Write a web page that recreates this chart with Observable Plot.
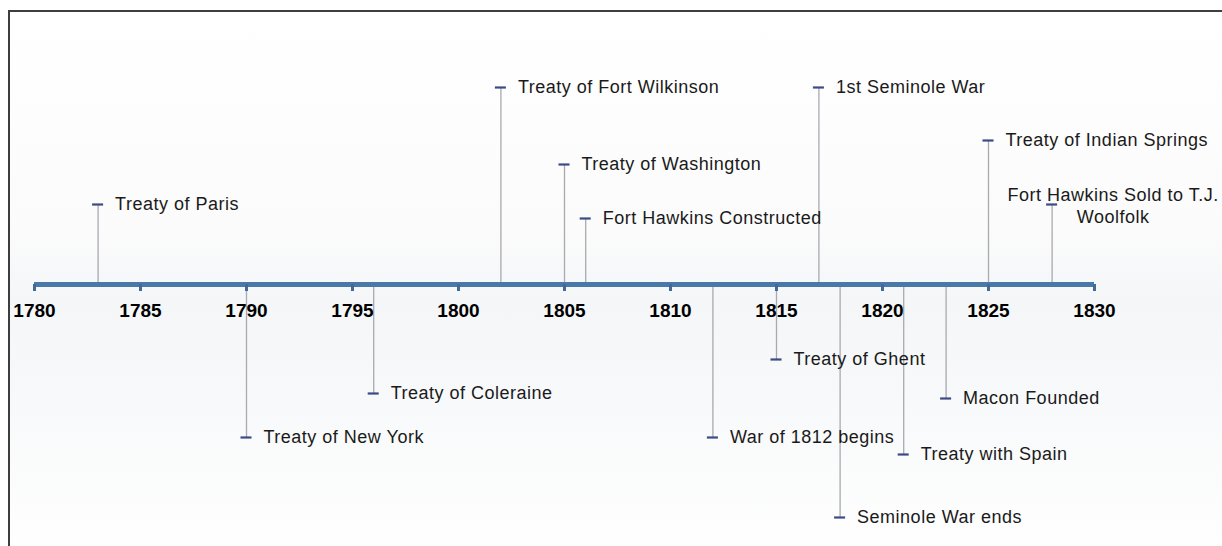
<!DOCTYPE html>
<html>
<head>
<meta charset="utf-8">
<script src="https://cdn.jsdelivr.net/npm/d3@7"></script>
<script src="https://cdn.jsdelivr.net/npm/@observablehq/plot@0.6"></script>
<style>
  html, body { margin: 0; padding: 0; background: #ffffff; overflow: hidden; }
  #wrap { position: relative; width: 1222px; height: 546px; }
  #frame {
    position: absolute; left: 8px; top: 10px; width: 1240px; height: 560px;
    border: 2px solid #3e3e3e; box-sizing: border-box;
    background: linear-gradient(to bottom, #ffffff 0%, #fbfbfb 40%, #f4f6f8 52%, #f8f9fa 70%, #ffffff 100%);
  }
  #chart { position: absolute; left: 0; top: 0; }
  svg { overflow: visible; }
</style>
</head>
<body>
<div id="wrap">
  <div id="frame"></div>
  <div id="chart"></div>
</div>
<script>
const years = [1783, 1790, 1796, 1802, 1805, 1806, 1812, 1815, 1817, 1818, 1821, 1823, 1825, 1828];
const labels = [
  "Treaty of Paris",
  "Treaty of New York",
  "Treaty of Coleraine",
  "Treaty of Fort Wilkinson",
  "Treaty of Washington",
  "Fort Hawkins Constructed",
  "War of 1812 begins",
  "Treaty of Ghent",
  "1st Seminole War",
  "Seminole War ends",
  "Treaty with Spain",
  "Macon Founded",
  "Treaty of Indian Springs",
  "Fort Hawkins Sold to T.J.\nWoolfolk"
];
// height of each event's marker above (+) or below (-) the time axis
const heights = [80, -153, -109, 197, 120, 66, -153, -75, 197, -233, -170, -114, 144, 80];
const tickYears = [1780, 1785, 1790, 1795, 1800, 1805, 1810, 1815, 1820, 1825, 1830];

const events = years.map((y, i) => ({year: y, label: labels[i], h: heights[i], last: i === years.length - 1}));
const normal = events.filter(d => !d.last);
const centered = events.filter(d => d.last);
const ticks = tickYears.map(t => ({year: t}));

const chart = Plot.plot({
  width: 1222,
  height: 546,
  marginLeft: 34,
  marginRight: 128,
  marginTop: 0,
  marginBottom: 0,
  style: {background: "transparent", fontFamily: "'Liberation Sans', Arial, sans-serif"},
  x: {domain: [1780, 1830], axis: null},
  y: {domain: [-262, 284], axis: null},
  marks: [
    Plot.ruleX(events, {x: "year", y1: 0, y2: "h", stroke: "#a9a9b1", strokeWidth: 1.3}),
    Plot.ruleY([0], {x1: 1780, x2: 1830, stroke: "#4a78a8", strokeWidth: 5}),
    Plot.ruleX(ticks, {x: "year", y1: 0, y2: -7, stroke: "#41699a", strokeWidth: 3}),
    Plot.ruleY(events, {y: "h", x1: d => d.year - 0.26, x2: d => d.year + 0.26, stroke: "#3c4a86", strokeWidth: 2.2}),
    Plot.text(normal, {x: "year", y: "h", text: "label", dx: 17, textAnchor: "start", fontSize: 18, fill: "#1a1a1a", lineAnchor: "middle"}),
    Plot.text(centered, {x: "year", y: "h", text: "label", dx: 61, textAnchor: "middle", fontSize: 18, fill: "#1a1a1a", lineAnchor: "middle", lineHeight: 1.22}),
    Plot.text(ticks, {x: "year", y: -26, text: d => String(d.year), fontSize: 19, fontWeight: "bold", fill: "#000"})
  ]
});
const textGroups = chart.querySelectorAll('g[aria-label="text"]');
if (textGroups[0]) textGroups[0].setAttribute("letter-spacing", "0.5px");
if (textGroups[1]) textGroups[1].setAttribute("letter-spacing", "0.5px");
document.getElementById("chart").appendChild(chart);
</script>
</body>
</html>
